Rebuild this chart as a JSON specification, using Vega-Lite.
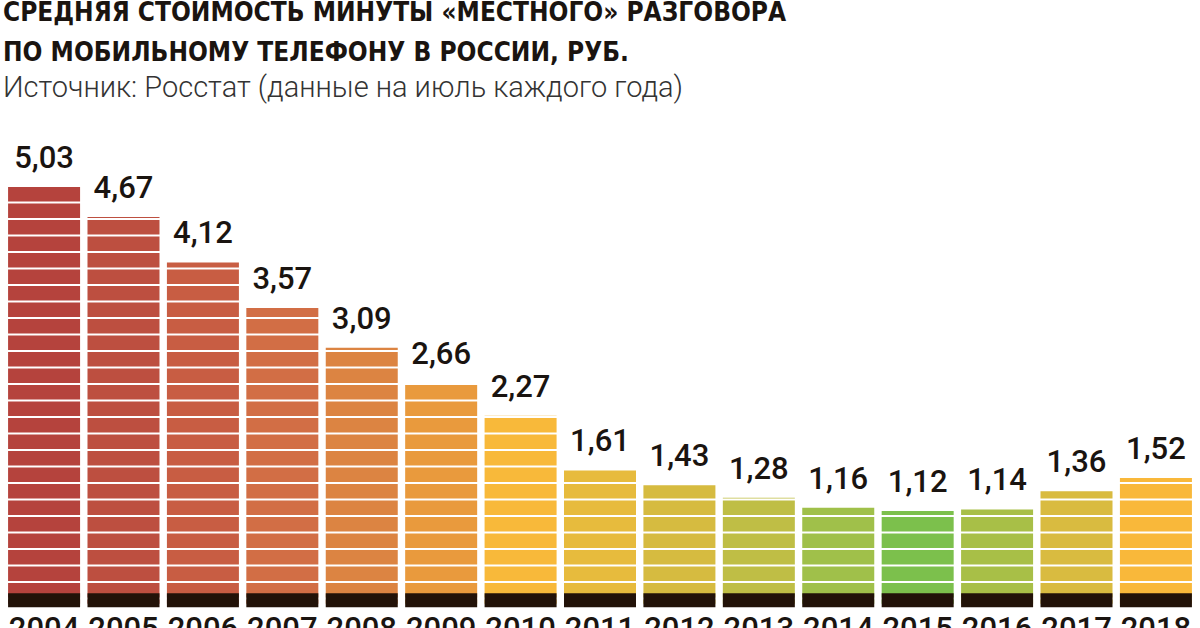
{
  "$schema": "https://vega.github.io/schema/vega-lite/v6.json",
  "width": 1200,
  "height": 435,
  "padding": 0,
  "autosize": {"type": "pad"},
  "background": "white",
  "config": {
    "view": {"stroke": null},
    "locale": {"number": {"decimal": ",", "thousands": " ", "grouping": [3], "currency": ["", " руб."]}}
  },
  "title": {
    "text": ["СРЕДНЯЯ СТОИМОСТЬ МИНУТЫ «МЕСТНОГО» РАЗГОВОРА", "ПО МОБИЛЬНОМУ ТЕЛЕФОНУ В РОССИИ, РУБ."],
    "subtitle": "Источник: Росстат (данные на июль каждого года)",
    "anchor": "start",
    "frame": "bounds",
    "font": "DejaVu Sans Condensed, sans-serif",
    "fontSize": 26,
    "fontWeight": "bold",
    "color": "#1a1410",
    "lineHeight": 40,
    "subtitleFont": "Roboto",
    "subtitleFontSize": 29,
    "subtitleFontWeight": 300,
    "subtitleColor": "#333333",
    "subtitlePadding": 8,
    "offset": 40,
    "dx": 3
  },
  "data": {
    "values": [
      {"year": "2004", "base": 0, "value": 5.03},
      {"year": "2005", "base": 0, "value": 4.67},
      {"year": "2006", "base": 0, "value": 4.12},
      {"year": "2007", "base": 0, "value": 3.57},
      {"year": "2008", "base": 0, "value": 3.09},
      {"year": "2009", "base": 0, "value": 2.66},
      {"year": "2010", "base": 0, "value": 2.27},
      {"year": "2011", "base": 0, "value": 1.61},
      {"year": "2012", "base": 0, "value": 1.43},
      {"year": "2013", "base": 0, "value": 1.28},
      {"year": "2014", "base": 0, "value": 1.16},
      {"year": "2015", "base": 0, "value": 1.12},
      {"year": "2016", "base": 0, "value": 1.14},
      {"year": "2017", "base": 0, "value": 1.36},
      {"year": "2018", "base": 0, "value": 1.52}
    ]
  },
  "encoding": {
    "x": {
      "field": "year",
      "type": "ordinal",
      "scale": {"paddingInner": 0.09, "paddingOuter": 0.1},
      "axis": {
        "title": null,
        "labelAngle": 0,
        "domain": false,
        "ticks": false,
        "labelFont": "Roboto",
        "labelFontSize": 31,
        "labelFontWeight": 500,
        "labelColor": "#1a1410",
        "labelPadding": 6
      }
    }
  },
  "layer": [
    {
      "mark": {"type": "rule", "strokeWidth": 72, "strokeCap": "butt", "strokeDash": [14.5, 2], "strokeDashOffset": 10.2},
      "encoding": {
        "y": {"field": "base", "type": "quantitative", "scale": {"domain": [-0.05, 5.2], "nice": false, "zero": false}, "axis": null},
        "y2": {"field": "value"},
        "color": {
          "field": "year",
          "type": "ordinal",
          "legend": null,
          "scale": {"range": ["#b5433d", "#bd4f40", "#c85d43", "#d26e45", "#dc8442", "#e99a3d", "#f8b93a", "#e7bb3d", "#d6bb40", "#bfbe45", "#a0c04a", "#7cc04c", "#a8bf47", "#d9bb40", "#f9b83a"]}
        }
      }
    },
    {
      "mark": {"type": "bar", "color": "#221208", "width": 72},
      "encoding": {
        "y": {"datum": -0.042, "type": "quantitative", "scale": {"domain": [-0.05, 5.2], "nice": false, "zero": false}, "axis": null},
        "y2": {"datum": 0.127}
      }
    },
    {
      "mark": {"type": "text", "font": "Roboto", "fontSize": 31, "fontWeight": 500, "color": "#1a1410", "baseline": "alphabetic", "dy": -19},
      "encoding": {
        "y": {"field": "value", "type": "quantitative", "scale": {"domain": [-0.05, 5.2], "nice": false, "zero": false}, "axis": null},
        "text": {"field": "value", "type": "quantitative", "format": ".2f"}
      }
    }
  ]
}
